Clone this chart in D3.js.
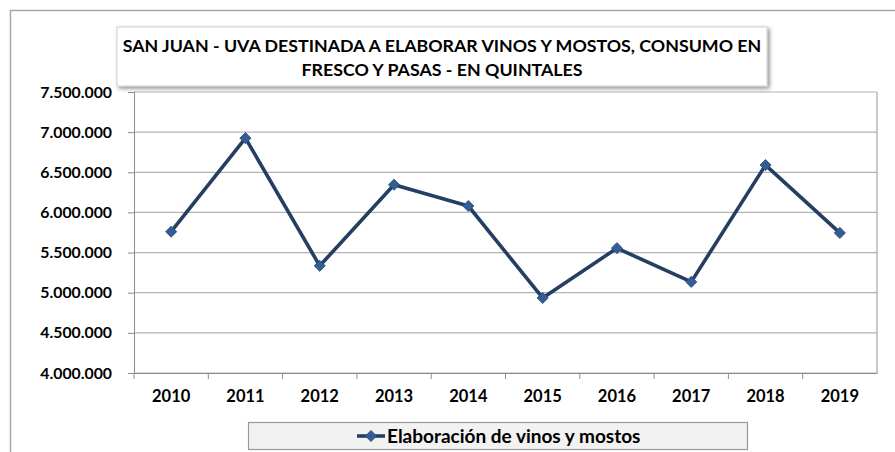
<!DOCTYPE html>
<html>
<head>
<meta charset="utf-8">
<script src="https://cdn.jsdelivr.net/npm/d3@7"></script>
<style>
  body { margin: 0; background: #fff; }
  text { font-family: Lato, "Open Sans", sans-serif; }
</style>
</head>
<body>
<div id="chart"></div>
<script>
// values (quintales)
const years = ["2010","2011","2012","2013","2014","2015","2016","2017","2018","2019"];
const vinos = [5760000, 6925000, 5335000, 6345000, 6080000, 4935000, 5555000, 5135000, 6590000, 5745000];
const yTicks = [4000000, 4500000, 5000000, 5500000, 6000000, 6500000, 7000000, 7500000];
const titleLines = ["SAN JUAN - UVA DESTINADA A ELABORAR VINOS Y MOSTOS, CONSUMO EN", "FRESCO Y PASAS - EN QUINTALES"];
const seriesName = "Elaboración de vinos y mostos";

const W = 895, H = 452;
const m = { top: 92, right: 18, bottom: 79, left: 134 };
const iw = W - m.left - m.right, ih = H - m.top - m.bottom;

const svg = d3.select("#chart").append("svg").attr("width", W).attr("height", H);

// outer chart frame (cut off at right / bottom like the screenshot)
svg.append("rect").attr("x", 10.5).attr("y", 10.5).attr("width", 900).attr("height", 460)
  .attr("fill", "#fff").attr("stroke", "#a6a6a6").attr("stroke-width", 1.5);

const g = svg.append("g").attr("transform", `translate(${m.left},${m.top})`);

const x = d3.scaleBand().domain(years).range([0, iw]);
const y = d3.scaleLinear().domain([4000000, 7500000]).range([ih, 0]);

const fmt = v => d3.format(",")(v).replace(/,/g, ".");

// gridlines
g.selectAll(".grid").data(yTicks).join("line")
  .attr("x1", 0).attr("x2", iw)
  .attr("y1", d => y(d)).attr("y2", d => y(d))
  .attr("stroke", "#b3b3b3").attr("stroke-width", 1.2);

// right border of plot area
g.append("line").attr("x1", iw).attr("x2", iw).attr("y1", 0).attr("y2", ih)
  .attr("stroke", "#a6a6a6").attr("stroke-width", 1.2);

// y axis
const gy = g.append("g").call(d3.axisLeft(y).tickValues(yTicks).tickFormat(fmt).tickSize(6).tickPadding(16));
gy.select(".domain").attr("stroke", "#8c8c8c");
gy.selectAll(".tick line").attr("stroke", "#8c8c8c");
gy.selectAll("text").attr("font-size", 15.8).attr("font-weight", "bold").attr("fill", "#000")
  .style("font-family", "Lato, sans-serif");

// x axis, ticks between categories
const gx = g.append("g").attr("transform", `translate(0,${ih})`)
  .call(d3.axisBottom(x).tickSize(0).tickPadding(17));
gx.select(".domain").attr("stroke", "#8c8c8c");
gx.selectAll("text").attr("font-size", 16.5).attr("font-weight", "bold").attr("fill", "#000")
  .style("font-family", "Lato, sans-serif");
g.selectAll(".xtick").data(years).join("line")
  .attr("x1", d => x(d)).attr("x2", d => x(d))
  .attr("y1", ih).attr("y2", ih + 6)
  .attr("stroke", "#8c8c8c");

// line + diamond markers
const line = d3.line().x((d, i) => x(years[i]) + x.bandwidth() / 2).y(d => y(d));
g.append("path").datum(vinos).attr("d", line)
  .attr("fill", "none").attr("stroke", "#243f62").attr("stroke-width", 3.6)
  .attr("stroke-linejoin", "round");

g.selectAll(".pt").data(vinos).join("path")
  .attr("d", d3.symbol().type(d3.symbolSquare).size(62))
  .attr("transform", (d, i) => `translate(${x(years[i]) + x.bandwidth() / 2},${y(d)}) rotate(45)`)
  .attr("fill", "#335d94").attr("stroke", "#2a4f7e").attr("stroke-width", 0.8);

// title box with shadow
const defs = svg.append("defs");
const f = defs.append("filter").attr("id", "sh").attr("x", -0.05).attr("y", -0.2).attr("width", 1.1).attr("height", 1.5);
f.append("feDropShadow").attr("dx", 2).attr("dy", 2).attr("stdDeviation", 2).attr("flood-color", "#000").attr("flood-opacity", 0.45);

svg.append("rect").attr("x", 117).attr("y", 27).attr("width", 650).attr("height", 59)
  .attr("fill", "#fff").attr("stroke", "#d0d0d0").attr("filter", "url(#sh)");
svg.selectAll(".ttl").data(titleLines).join("text")
  .attr("x", 442).attr("y", (d, i) => 52 + i * 24)
  .attr("text-anchor", "middle").attr("font-size", 17.8).attr("font-weight", "bold")
  .attr("fill", "#000").text(d => d);

// legend
const lg = svg.append("g");
lg.append("rect").attr("x", 248.5).attr("y", 422.5).attr("width", 499).attr("height", 27)
  .attr("fill", "#f2f2f2").attr("stroke", "#999").attr("stroke-width", 1.2);
lg.append("line").attr("x1", 357).attr("x2", 385).attr("y1", 436).attr("y2", 436)
  .attr("stroke", "#243f62").attr("stroke-width", 3.6);
lg.append("path").attr("transform", "translate(371,436) rotate(45)")
  .attr("d", d3.symbol().type(d3.symbolSquare).size(62))
  .attr("fill", "#335d94").attr("stroke", "#2a4f7e").attr("stroke-width", 0.8);
lg.append("text").attr("x", 387).attr("y", 443).attr("font-size", 19).attr("font-weight", "bold")
  .attr("fill", "#000").text(seriesName);
</script>
</body>
</html>
